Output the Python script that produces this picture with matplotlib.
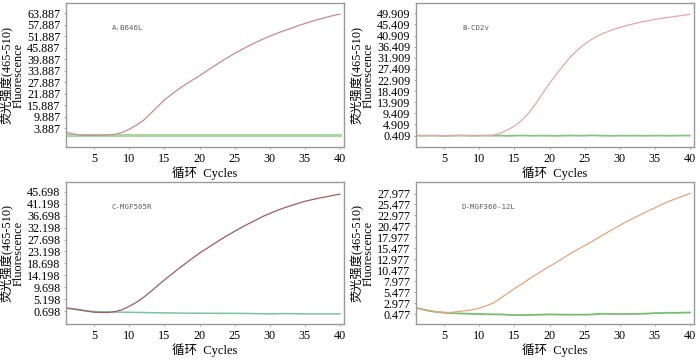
import numpy as np
import matplotlib
matplotlib.use("Agg")
import matplotlib.pyplot as plt

plt.rcParams['font.family'] = ['Liberation Serif', 'Noto Sans CJK SC']

# 循环数
cycles = np.arange(1, 41)

# A-B646L
a_pos = [1.8, 0.9, 0.3, 0.2, 0.2, 0.25, 0.35, 0.7, 1.7, 3.4,
         5.5, 8.0, 11.5, 15.1, 18.7, 21.6, 24.3, 26.8, 29.1, 31.3,
         33.8, 36.2, 38.6, 40.8, 43.0, 45.0, 46.9, 48.7, 50.4, 52.0,
         53.4, 54.8, 56.0, 57.4, 58.6, 59.7, 60.8, 61.8, 62.7, 63.5]
a_neg = [0.55] * 40

# B-CD2v
b_pos = [0.40, 0.38, 0.42, 0.40, 0.36, 0.40, 0.44, 0.42, 0.45, 0.40,
         0.45, 0.6, 1.38, 2.7, 4.3, 6.5, 9.5, 13.2, 17.5, 21.6,
         25.4, 29.0, 32.4, 35.1, 37.5, 39.4, 41.0, 42.2, 43.3, 44.2,
         45.0, 45.7, 46.4, 46.9, 47.5, 47.9, 48.3, 48.7, 49.1, 49.5]
b_neg = [0.40, 0.35, 0.42, 0.38, 0.30, 0.36, 0.45, 0.40, 0.33, 0.38,
         0.42, 0.35, 0.40, 0.30, 0.36, 0.45, 0.38, 0.32, 0.40, 0.35,
         0.30, 0.38, 0.44, 0.36, 0.40, 0.50, 0.42, 0.35, 0.30, 0.38,
         0.36, 0.40, 0.33, 0.38, 0.36, 0.40, 0.35, 0.38, 0.45, 0.36]

# C-MGF505R
c_pos = [1.94, 1.55, 1.2, 0.7, 0.32, 0.22, 0.2, 0.57, 1.3, 2.56,
         4.05, 5.9, 8.0, 10.3, 12.5, 14.6, 16.7, 18.7, 20.7, 22.6,
         24.3, 26.0, 27.7, 29.3, 30.8, 32.3, 33.7, 35.0, 36.4, 37.5,
         38.6, 39.6, 40.45, 41.3, 42.1, 42.7, 43.3, 43.8, 44.3, 44.8]
c_neg = [1.94, 1.5, 1.1, 0.8, 0.57, 0.5, 0.45, 0.4, 0.35, 0.3,
         0.25, 0.2, 0.15, 0.1, 0.07, 0.05, 0.0, -0.03, -0.05, -0.05,
         -0.07, -0.08, -0.1, -0.1, -0.1, -0.12, -0.15, -0.2, -0.25, -0.3,
         -0.25, -0.2, -0.2, -0.25, -0.3, -0.3, -0.3, -0.3, -0.3, -0.3]

# D-MGF360-12L
d_pos = [1.9, 1.5, 1.23, 1.0, 0.85, 0.85, 1.08, 1.23, 1.46, 1.83,
         2.36, 3.04, 4.1, 5.2, 6.3, 7.3, 8.4, 9.4, 10.4, 11.4,
         12.3, 13.3, 14.3, 15.2, 16.1, 17.0, 17.96, 18.9, 19.8, 20.7,
         21.6, 22.4, 23.2, 24.0, 24.7, 25.5, 26.2, 26.8, 27.4, 28.0]
d_neg = [1.9, 1.5, 1.15, 0.95, 0.78, 0.7, 0.63, 0.58, 0.52, 0.48,
         0.45, 0.42, 0.4, 0.32, 0.25, 0.25, 0.25, 0.3, 0.35, 0.4,
         0.38, 0.35, 0.33, 0.35, 0.33, 0.4, 0.5, 0.55, 0.5, 0.48,
         0.5, 0.52, 0.55, 0.6, 0.7, 0.72, 0.78, 0.75, 0.8, 0.85]

names = ["A-B646L", "B-CD2v", "C-MGF505R", "D-MGF360-12L"]
positives = [a_pos, b_pos, c_pos, d_pos]
negatives = [a_neg, b_neg, c_neg, d_neg]
pos_colors = ["#c88a8f", "#e3a7ae", "#9c5d64", "#e3a57f"]
neg_colors = ["#a9d6a2", "#86c386", "#7cc3a0", "#78bd72"]
neg_widths = [2.2, 1.3, 1.1, 1.3]
tick_start = [3.887, 0.409, 0.698, 0.477]
tick_step = [6.0, 4.5, 4.5, 2.5]
tick_count = [11, 12, 11, 12]
ylims = [(-5.9, 69.3), (-4.2, 54.1), (-4.3, 49.2), (-1.9, 30.5)]
xticks = [5, 10, 15, 20, 25, 30, 35, 40]

rects = [[0.0943, 0.594, 0.3971, 0.3977],
         [0.5943, 0.594, 0.3971, 0.3977],
         [0.0943, 0.1036, 0.3971, 0.3924],
         [0.5943, 0.1036, 0.3971, 0.3924]]

fig = plt.figure(figsize=(7.0, 3.62), dpi=100)

for i in range(4):
    ax = fig.add_axes(rects[i])
    ax.plot(cycles, negatives[i], color=neg_colors[i], lw=neg_widths[i])
    ax.plot(cycles, positives[i], color=pos_colors[i], lw=0.9)
    ax.set_xlim(0.97, 40.57)
    ax.set_ylim(*ylims[i])
    yt = [tick_start[i] + k * tick_step[i] for k in range(tick_count[i])]
    ax.set_yticks(yt)
    ax.set_yticklabels(["%.3f" % v for v in yt])
    ax.set_xticks(xticks)
    ax.tick_params(axis='both', labelsize=8.7, length=1.5, width=0.6,
                   color="#999999", pad=2.5)
    for s in ax.spines.values():
        s.set_color("#9a9a9a")
        s.set_linewidth(1.0)
    ax.set_xlabel("循环  Cycles", fontsize=9, labelpad=1)
    ax.set_ylabel("荧光强度(465-510)\nFluorescence", fontsize=8.8,
                  linespacing=0.95, labelpad=2)
    ax.text(0.165, 0.81, names[i], transform=ax.transAxes,
            family="DejaVu Sans Mono", fontsize=5.3, color="#5a5a5a")

fig.savefig("out.png", dpi=100)
